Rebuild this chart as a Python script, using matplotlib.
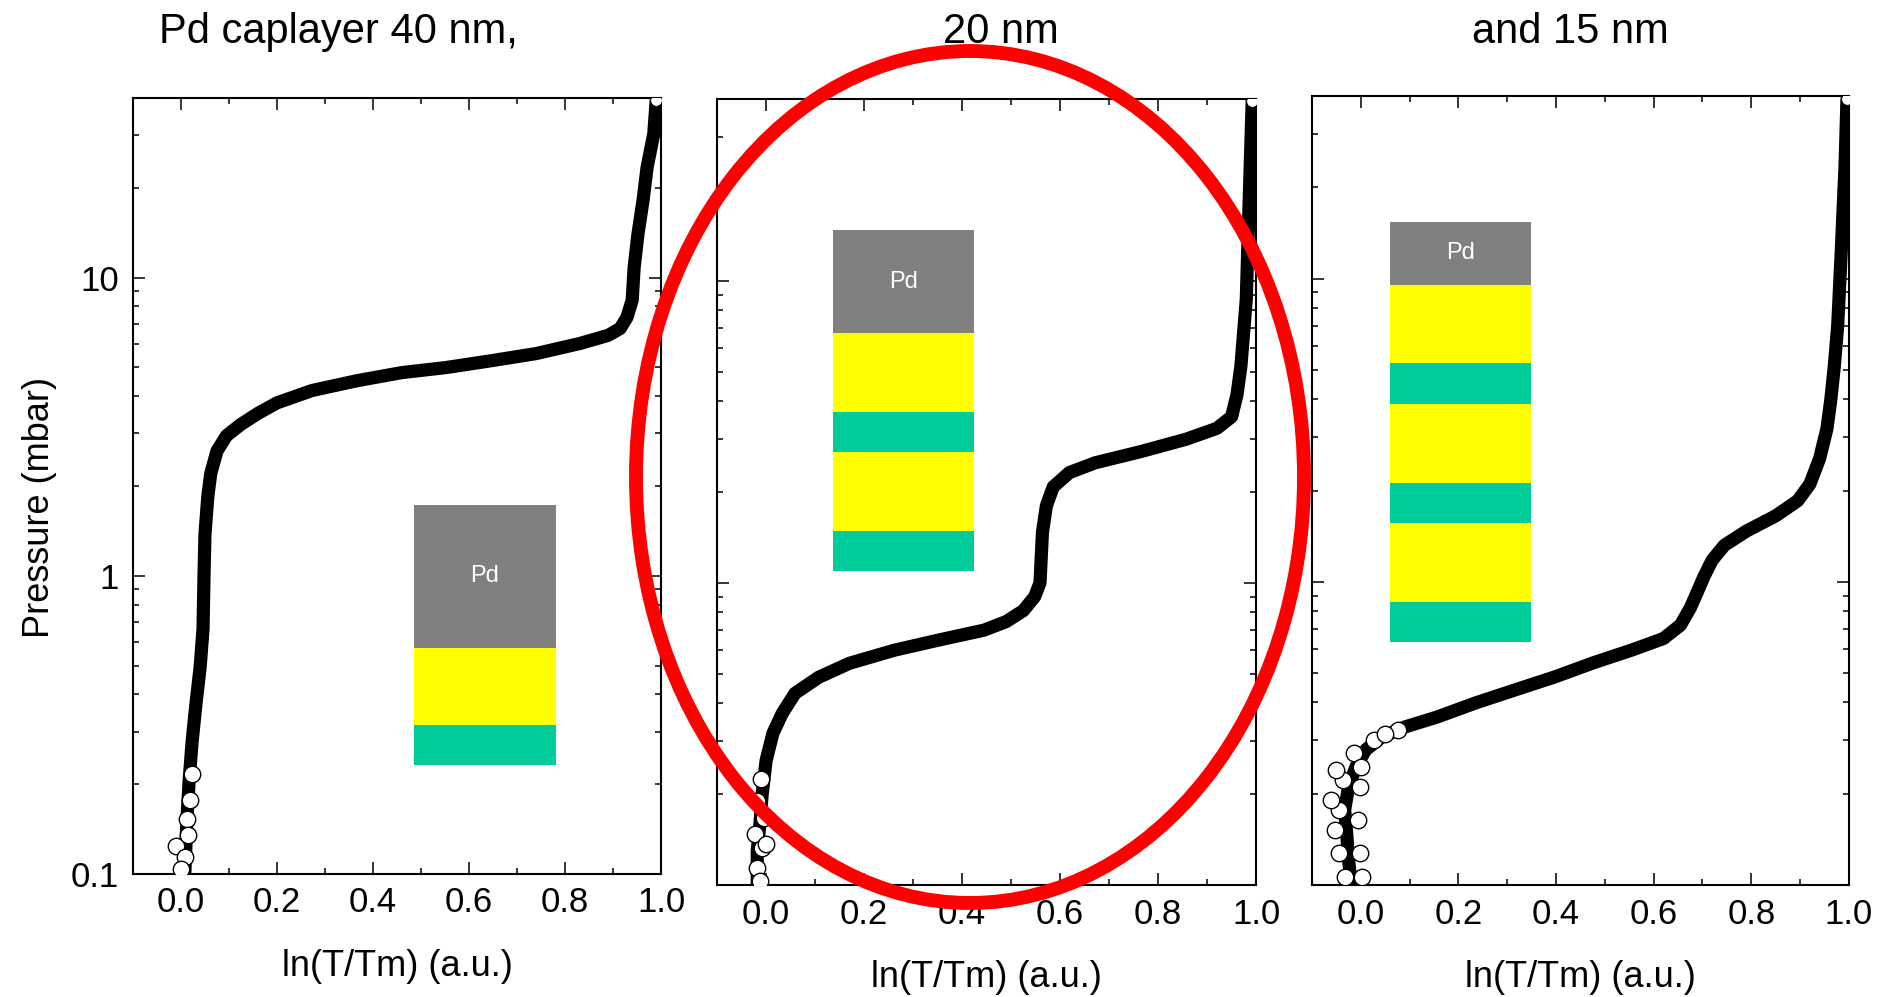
import matplotlib
matplotlib.use("Agg")
import matplotlib.pyplot as plt
from matplotlib.patches import Ellipse, Rectangle
from matplotlib.ticker import MultipleLocator, LogLocator, NullFormatter, FormatStrFormatter

plt.rcParams['font.family'] = ['Liberation Sans', 'DejaVu Sans']

# ln(T/Tm) vs pressure (mbar), bottom -> top
x_40 = [0.008, 0.0125, 0.017, 0.023, 0.031, 0.040, 0.046, 0.048, 0.050, 0.056, 0.062, 0.075, 0.095,
        0.125, 0.160, 0.20, 0.273, 0.367, 0.46, 0.552, 0.646, 0.74, 0.831, 0.890, 0.915, 0.929,
        0.94, 0.944, 0.952, 0.9625, 0.971, 0.985, 0.99]
p_40 = [0.10, 0.153, 0.205, 0.275, 0.369, 0.495, 0.664, 1.0, 1.38, 1.85, 2.20, 2.62, 2.95,
        3.22, 3.50, 3.80, 4.18, 4.51, 4.80, 4.99, 5.26, 5.56, 6.01, 6.40, 6.75, 7.35,
        8.4, 10.8, 14.0, 18.1, 23.4, 30.4, 39.3]

x_20 = [-0.018, -0.018, -0.012, -0.008, 0.0, 0.014, 0.033, 0.059, 0.107, 0.170, 0.262, 0.352,
        0.445, 0.490, 0.525, 0.548, 0.559, 0.564, 0.572, 0.586, 0.619, 0.672, 0.764, 0.857, 0.920,
        0.950, 0.961, 0.969, 0.98, 0.984, 0.988, 0.992]
p_20 = [0.101, 0.130, 0.163, 0.200, 0.258, 0.318, 0.370, 0.431, 0.487, 0.542, 0.599, 0.647,
        0.698, 0.745, 0.810, 0.900, 1.0, 1.47, 1.80, 2.08, 2.32, 2.50, 2.72, 2.99, 3.25,
        3.55, 4.20, 5.22, 8.71, 14.5, 24.1, 39.4]

x_15 = [-0.020, -0.025, -0.029, -0.033, -0.025, -0.010, 0.010, 0.043, 0.090, 0.156, 0.236, 0.316,
        0.398, 0.477, 0.557, 0.620, 0.655, 0.675, 0.690, 0.703, 0.720, 0.745, 0.790, 0.850, 0.895,
        0.920, 0.940, 0.955, 0.963, 0.970, 0.977, 0.984, 0.992, 0.996]
p_15 = [0.102, 0.121, 0.149, 0.177, 0.211, 0.245, 0.279, 0.308, 0.332, 0.358, 0.399, 0.440,
        0.486, 0.541, 0.597, 0.650, 0.720, 0.820, 0.930, 1.04, 1.18, 1.32, 1.47, 1.65, 1.85,
        2.10, 2.55, 3.20, 4.00, 5.13, 7.00, 12.0, 23.4, 39.0]

# loose open circles in the noisy low-pressure part
tail_x_40 = [-0.01, 0.008, 0.0, 0.0125, 0.019, 0.023, 0.015]
tail_p_40 = [0.124, 0.114, 0.104, 0.153, 0.177, 0.217, 0.135]
tail_x_20 = [-0.018, -0.004, -0.023, -0.008, -0.018, -0.012, 0.0, -0.010]
tail_p_20 = [0.190, 0.167, 0.148, 0.133, 0.114, 0.103, 0.137, 0.225]
tail_x_15 = [-0.045, -0.053, -0.006, -0.045, -0.002, -0.033, 0.002, -0.037, -0.002, -0.014,
             0.027, 0.076, -0.061, -0.050, 0.000, 0.050]
tail_p_15 = [0.177, 0.152, 0.164, 0.128, 0.128, 0.106, 0.106, 0.222, 0.211, 0.273, 0.301,
             0.325, 0.191, 0.240, 0.245, 0.315]

titles = ["Pd caplayer 40 nm,", "20 nm", "and 15 nm"]

# layer stacks (top -> bottom), thickness as fraction of axes height
layer_colors = {'Pd': '#808080', 'A': '#FFFF00', 'B': '#00CC99'}
stack_40 = [('Pd', 0.184), ('A', 0.10), ('B', 0.051)]
stack_20 = [('Pd', 0.131), ('A', 0.10), ('B', 0.051), ('A', 0.10), ('B', 0.051)]
stack_15 = [('Pd', 0.079), ('A', 0.10), ('B', 0.051), ('A', 0.10), ('B', 0.051), ('A', 0.10), ('B', 0.051)]

panels = [
    dict(pos=[0.0702, 0.1234, 0.2788, 0.7783], x=x_40, p=p_40, tx=tail_x_40, tp=tail_p_40,
         stack=stack_40, sx=(0.532, 0.801), stop=0.4755, tpos=(338, 43)),
    dict(pos=[0.3786, 0.1123, 0.2846, 0.7884], x=x_20, p=p_20, tx=tail_x_20, tp=tail_p_20,
         stack=stack_20, sx=(0.215, 0.477), stop=0.833, tpos=(1001, 43)),
    dict(pos=[0.6927, 0.1123, 0.2835, 0.7914], x=x_15, p=p_15, tx=tail_x_15, tp=tail_p_15,
         stack=stack_15, sx=(0.145, 0.408), stop=0.840, tpos=(1570, 43)),
]

W, H = 1894, 997
fig = plt.figure(figsize=(W / 100, H / 100), dpi=100)

for i, pn in enumerate(panels):
    ax = fig.add_axes(pn['pos'])
    ax.plot(pn['x'], pn['p'], color='black', lw=9.5, solid_capstyle='round',
            solid_joinstyle='round', zorder=2)
    ax.scatter(pn['tx'], pn['tp'], s=140, facecolor='white', edgecolor='black', lw=1.0, zorder=3)
    ax.scatter(pn['x'][-1:], pn['p'][-1:], s=70, facecolor='white', edgecolor='black', lw=0.6,
               zorder=3)
    ax.set_yscale('log')
    ax.set_xlim(-0.1, 1.0)
    ax.set_ylim(0.1, 40)
    ax.xaxis.set_major_locator(MultipleLocator(0.2))
    ax.xaxis.set_minor_locator(MultipleLocator(0.1))
    ax.xaxis.set_major_formatter(FormatStrFormatter('%.1f'))
    ax.yaxis.set_major_locator(LogLocator(base=10, numticks=10))
    ax.yaxis.set_minor_locator(LogLocator(base=10, subs=range(2, 10), numticks=20))
    ax.yaxis.set_minor_formatter(NullFormatter())
    ax.yaxis.set_major_formatter(FormatStrFormatter('%g'))
    ax.tick_params(which='both', direction='in', top=True, right=True, width=1.1,
                   labelsize=25)
    ax.tick_params(which='major', length=8.6)
    ax.tick_params(which='minor', length=4.5)
    ax.tick_params(axis='x', pad=9)
    ax.tick_params(axis='y', pad=10, labelleft=(i == 0))
    for s in ax.spines.values():
        s.set_linewidth(1.5)
    ax.set_xlabel('ln(T/Tm) (a.u.)', fontsize=26, labelpad=21)

    # layer stack sketch
    top = pn['stop']
    x0, x1 = pn['sx']
    for name, h in pn['stack']:
        ax.add_patch(Rectangle((x0, top - h), x1 - x0, h, transform=ax.transAxes,
                               facecolor=layer_colors[name], edgecolor='none', zorder=1))
        if name == 'Pd':
            ax.text((x0 + x1) / 2, top - h / 2, 'Pd', transform=ax.transAxes, color='white',
                    fontsize=17, ha='center', va='center', zorder=1.5)
        top -= h

    fig.text(pn['tpos'][0] / W, 1 - pn['tpos'][1] / H, titles[i], fontsize=30,
             ha='center', va='baseline')

fig.text(0.021, 0.491, 'Pressure (mbar)', rotation=90, fontsize=26, ha='center', va='center')

# red highlight around the middle panel
fig.add_artist(Ellipse((970 / W, 1 - 477 / H), 668 / W, 852 / H, transform=fig.transFigure,
                       fill=False, edgecolor='#FF0000', lw=10, zorder=10))

fig.savefig('out.png', dpi=100)
